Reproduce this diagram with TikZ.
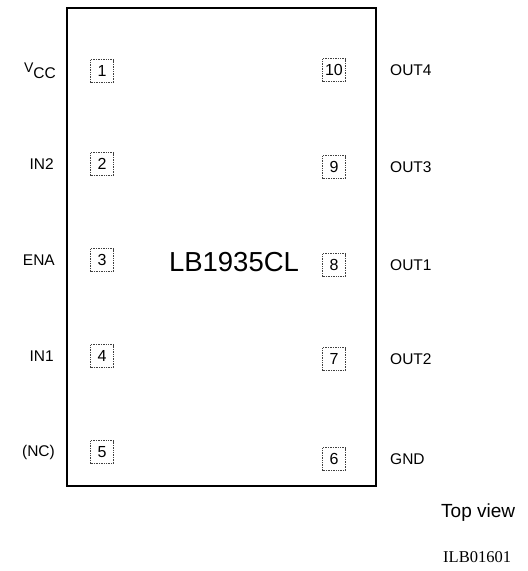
\documentclass[tikz,border=0pt]{standalone}
\usepackage{fontspec}
\setmainfont{Liberation Sans}
\newfontfamily\serifm{Liberation Serif}
\begin{document}
\begin{tikzpicture}[x=1pt,y=-1pt,
  chipbox/.style={draw=black, line width=2.8pt, inner sep=0pt},
  pinbox/.style={draw=black!75, densely dotted, line width=0.7pt, minimum width=23pt, minimum height=23pt, inner sep=0pt, font=\fontsize{16}{16}\selectfont},
  lbl/.style={font=\fontsize{15.5}{15.5}\selectfont, inner sep=0pt}]
\useasboundingbox (0,0) rectangle (528,571);
\node[chipbox, minimum width=309pt, minimum height=478pt] (chip) at (221.5,247) {};
\node[font=\fontsize{27.5}{27.5}\selectfont, inner sep=0pt] (name) at (234,262) {LB1935CL};
% left pins
\node[pinbox] (p1) at (102,71) {1};
\node[pinbox] (p2) at (102,164) {2};
\node[pinbox] (p3) at (102,260) {3};
\node[pinbox] (p4) at (102,356) {4};
\node[pinbox] (p5) at (102,452) {5};
% right pins
\node[pinbox] (p10) at (334,70) {10};
\node[pinbox] (p9) at (334,167) {9};
\node[pinbox] (p8) at (334,265) {8};
\node[pinbox] (p7) at (334,359) {7};
\node[pinbox] (p6) at (334,459) {6};
% left labels
\node[lbl, anchor=east] (l1) at (56,71) {\raisebox{3.5pt}{\fontsize{14}{14}\selectfont V}\raisebox{-2pt}{CC}};
\node[lbl, anchor=east] (l2) at (54,164) {IN2};
\node[lbl, anchor=east] (l3) at (55,260) {ENA};
\node[lbl, anchor=east] (l4) at (54,356) {IN1};
\node[lbl, anchor=east] (l5) at (55,452) {(NC)};
% right labels
\node[lbl, anchor=west] (r10) at (390,70) {OUT4};
\node[lbl, anchor=west] (r9) at (390,167) {OUT3};
\node[lbl, anchor=west] (r8) at (390,265) {OUT1};
\node[lbl, anchor=west] (r7) at (390,359) {OUT2};
\node[lbl, anchor=west] (r6) at (390,459) {GND};
\node[lbl, anchor=west, font=\fontsize{19}{19}\selectfont] (tv) at (441,513) {Top view};
\node[anchor=west, inner sep=0pt, font=\serifm\fontsize{16.5}{16.5}\selectfont] (code) at (443,557) {ILB01601};
\end{tikzpicture}
\end{document}
